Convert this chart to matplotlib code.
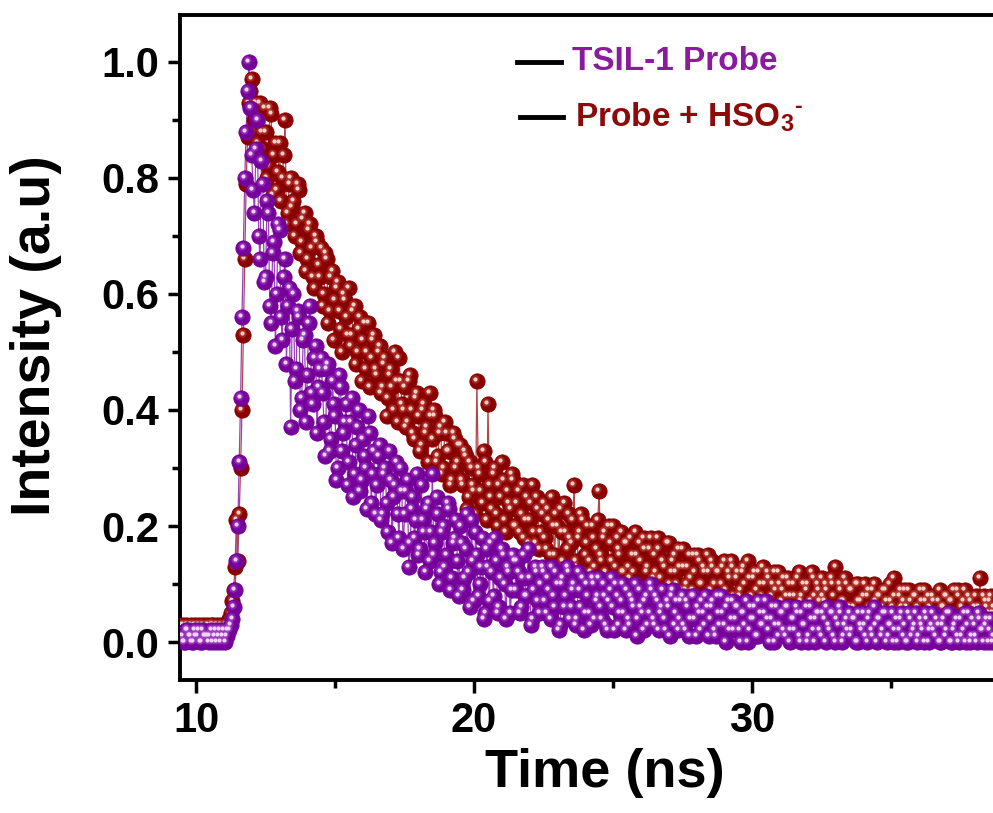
import numpy as np
import matplotlib
matplotlib.use("Agg")
import matplotlib.pyplot as plt
from matplotlib.lines import Line2D
from matplotlib.transforms import offset_copy

plt.rcParams['font.family'] = 'Liberation Sans'
plt.rcParams['font.weight'] = 'bold'
plt.rcParams['mathtext.fontset'] = 'custom'
plt.rcParams['mathtext.rm'] = 'Liberation Sans:bold'
plt.rcParams['mathtext.bf'] = 'Liberation Sans:bold'
plt.rcParams['mathtext.default'] = 'bf'

# time channels (ns): even channels 9.50, 9.60 ... and odd channels 9.55, 9.65 ...
time_even = np.round(np.arange(9.5, 38.75, 0.1), 2)
time_odd = np.round(np.arange(9.55, 38.7, 0.1), 2)

# TSIL-1 probe decay (one row = 1 ns)
probe_even = [
    0.01, 0.00, 0.02, 0.01, 0.00, 0.01, 0.02, 0.00, 0.01, 0.01,
    0.01, 0.00, 0.02, 0.01, 0.00, 0.02, 0.01, 0.02, 0.04, 0.09,
    0.20, 0.42, 0.68, 0.88, 1.00, 0.84, 0.74, 0.90, 0.66, 0.79,
    0.63, 0.74, 0.55, 0.69, 0.60, 0.71, 0.52, 0.66, 0.58, 0.37,
    0.60, 0.47, 0.56, 0.42, 0.53, 0.46, 0.58, 0.41, 0.51, 0.44,
    0.49, 0.38, 0.47, 0.33, 0.45, 0.39, 0.30, 0.44, 0.36, 0.41,
    0.31, 0.42, 0.29, 0.37, 0.26, 0.35, 0.30, 0.39, 0.24, 0.33,
    0.27, 0.34, 0.22, 0.30, 0.19, 0.28, 0.25, 0.31, 0.18, 0.26,
    0.22, 0.28, 0.17, 0.25, 0.21, 0.15, 0.27, 0.19, 0.23, 0.14,
    0.29, 0.17, 0.22, 0.12, 0.20, 0.15, 0.23, 0.11, 0.18, 0.14,
    0.20, 0.09, 0.16, 0.12, 0.21, 0.07, 0.15, 0.10, 0.18, 0.05,
    0.13, 0.17, 0.08, 0.14, 0.06, 0.16, 0.10, 0.13, 0.05, 0.15,
    0.09, 0.12, 0.06, 0.15, 0.08, 0.11, 0.04, 0.13, 0.07, 0.10,
    0.12, 0.05, 0.09, 0.13, 0.06, 0.10, 0.03, 0.11, 0.08, 0.12,
    0.06, 0.10, 0.04, 0.09, 0.11, 0.05, 0.08, 0.03, 0.10, 0.07,
    0.11, 0.04, 0.08, 0.02, 0.09, 0.06, 0.10, 0.03, 0.07, 0.05,
    0.09, 0.03, 0.07, 0.10, 0.04, 0.06, 0.02, 0.08, 0.05, 0.09,
    0.03, 0.07, 0.05, 0.09, 0.02, 0.06, 0.08, 0.03, 0.07, 0.04,
    0.08, 0.02, 0.06, 0.04, 0.08, 0.01, 0.05, 0.07, 0.03, 0.06,
    0.04, 0.07, 0.01, 0.05, 0.08, 0.03, 0.06, 0.02, 0.07, 0.04,
    0.06, 0.00, 0.05, 0.07, 0.02, 0.04, 0.06, 0.01, 0.05, 0.03,
    0.07, 0.02, 0.04, 0.00, 0.06, 0.03, 0.05, 0.01, 0.06, 0.02,
    0.04, 0.06, 0.01, 0.05, 0.03, 0.00, 0.06, 0.02, 0.04, 0.05,
    0.01, 0.04, 0.06, 0.02, 0.05, 0.00, 0.03, 0.05, 0.01, 0.04,
    0.05, 0.02, 0.04, 0.00, 0.03, 0.05, 0.01, 0.04, 0.02, 0.06,
    0.00, 0.04, 0.02, 0.05, 0.01, 0.03, 0.00, 0.04, 0.02, 0.05,
    0.03, 0.00, 0.04, 0.02, 0.05, 0.01, 0.03, 0.00, 0.04, 0.02,
    0.05, 0.01, 0.03, 0.00, 0.04, 0.02, 0.05, 0.00, 0.03, 0.01,
    0.04, 0.02, 0.00, 0.05, 0.01, 0.03, 0.00, 0.04, 0.02, 0.03,
    0.00, 0.04, 0.01,
]
probe_odd = [
    0.00, 0.02, 0.01, 0.00, 0.02, 0.01, 0.00, 0.02, 0.01, 0.00,
    0.02, 0.01, 0.00, 0.02, 0.01, 0.00, 0.02, 0.03, 0.06, 0.14,
    0.31, 0.56, 0.80, 0.95, 0.92, 0.78, 0.85, 0.70, 0.83, 0.62,
    0.76, 0.58, 0.67, 0.51, 0.72, 0.56, 0.63, 0.48, 0.61, 0.54,
    0.45, 0.57, 0.40, 0.52, 0.38, 0.55, 0.43, 0.49, 0.36, 0.47,
    0.43, 0.32, 0.48, 0.35, 0.41, 0.28, 0.46, 0.33, 0.38, 0.27,
    0.38, 0.25, 0.34, 0.40, 0.28, 0.32, 0.23, 0.36, 0.29, 0.22,
    0.32, 0.21, 0.29, 0.24, 0.33, 0.17, 0.27, 0.22, 0.30, 0.16,
    0.26, 0.13, 0.23, 0.18, 0.29, 0.16, 0.21, 0.12, 0.24, 0.19,
    0.15, 0.25, 0.10, 0.19, 0.13, 0.24, 0.09, 0.17, 0.21, 0.08,
    0.17, 0.11, 0.22, 0.06, 0.14, 0.19, 0.08, 0.13, 0.04, 0.16,
    0.07, 0.12, 0.18, 0.05, 0.11, 0.15, 0.04, 0.12, 0.09, 0.14,
    0.14, 0.05, 0.11, 0.08, 0.16, 0.03, 0.09, 0.12, 0.05, 0.13,
    0.07, 0.11, 0.04, 0.08, 0.12, 0.02, 0.10, 0.06, 0.13, 0.04,
    0.09, 0.03, 0.12, 0.06, 0.02, 0.10, 0.05, 0.11, 0.04, 0.08,
    0.06, 0.10, 0.03, 0.07, 0.11, 0.02, 0.08, 0.05, 0.10, 0.02,
    0.04, 0.08, 0.06, 0.01, 0.09, 0.05, 0.07, 0.03, 0.10, 0.04,
    0.08, 0.02, 0.06, 0.04, 0.07, 0.01, 0.09, 0.05, 0.02, 0.07,
    0.03, 0.07, 0.01, 0.08, 0.04, 0.06, 0.02, 0.05, 0.08, 0.01,
    0.06, 0.02, 0.08, 0.03, 0.05, 0.00, 0.07, 0.04, 0.02, 0.06,
    0.02, 0.05, 0.03, 0.00, 0.06, 0.04, 0.01, 0.07, 0.03, 0.05,
    0.04, 0.00, 0.06, 0.03, 0.01, 0.05, 0.02, 0.06, 0.00, 0.04,
    0.02, 0.05, 0.00, 0.03, 0.06, 0.01, 0.04, 0.00, 0.05, 0.02,
    0.05, 0.00, 0.03, 0.05, 0.01, 0.04, 0.06, 0.00, 0.03, 0.02,
    0.01, 0.04, 0.00, 0.05, 0.02, 0.03, 0.00, 0.05, 0.01, 0.03,
    0.04, 0.01, 0.05, 0.00, 0.03, 0.05, 0.02, 0.00, 0.04, 0.01,
    0.00, 0.05, 0.01, 0.03, 0.00, 0.04, 0.02, 0.05, 0.00, 0.03,
    0.02, 0.04, 0.00, 0.03, 0.01, 0.05, 0.00, 0.02, 0.04, 0.00,
    0.01, 0.05, 0.03, 0.00, 0.04, 0.01, 0.05, 0.02, 0.00, 0.04,
    0.02, 0.00,
]

# probe + HSO3- decay
hso3_even = [
    0.03, 0.01, 0.02, 0.03, 0.01, 0.02, 0.03, 0.02, 0.01, 0.03,
    0.02, 0.03, 0.01, 0.02, 0.03, 0.02, 0.03, 0.04, 0.07, 0.13,
    0.14, 0.30, 0.53, 0.79, 0.93, 0.97, 0.90, 0.86, 0.93, 0.85,
    0.88, 0.82, 0.91, 0.84, 0.78, 0.86, 0.80, 0.90, 0.74, 0.80,
    0.76, 0.72, 0.78, 0.69, 0.74, 0.66, 0.72, 0.63, 0.70, 0.65,
    0.68, 0.60, 0.66, 0.57, 0.64, 0.59, 0.62, 0.54, 0.60, 0.56,
    0.61, 0.53, 0.58, 0.50, 0.56, 0.52, 0.47, 0.55, 0.49, 0.53,
    0.46, 0.51, 0.44, 0.49, 0.42, 0.47, 0.40, 0.45, 0.49, 0.41,
    0.44, 0.38, 0.46, 0.36, 0.42, 0.39, 0.34, 0.41, 0.37, 0.43,
    0.35, 0.39, 0.32, 0.37, 0.30, 0.36, 0.33, 0.28, 0.35, 0.31,
    0.34, 0.27, 0.32, 0.25, 0.30, 0.26, 0.45, 0.29, 0.24, 0.31,
    0.41, 0.25, 0.29, 0.22, 0.27, 0.31, 0.21, 0.26, 0.23, 0.28,
    0.20, 0.26, 0.22, 0.18, 0.25, 0.21, 0.27, 0.17, 0.23, 0.19,
    0.24, 0.16, 0.21, 0.25, 0.15, 0.20, 0.23, 0.14, 0.19, 0.22,
    0.17, 0.27, 0.13, 0.19, 0.21, 0.15, 0.20, 0.12, 0.18, 0.16,
    0.26, 0.14, 0.19, 0.11, 0.17, 0.20, 0.13, 0.16, 0.19, 0.12,
    0.17, 0.11, 0.15, 0.19, 0.10, 0.14, 0.18, 0.12, 0.16, 0.10,
    0.15, 0.18, 0.11, 0.14, 0.09, 0.17, 0.12, 0.15, 0.10, 0.13,
    0.16, 0.09, 0.13, 0.11, 0.15, 0.08, 0.14, 0.10, 0.12, 0.15,
    0.09, 0.13, 0.07, 0.12, 0.10, 0.14, 0.08, 0.11, 0.13, 0.07,
    0.12, 0.09, 0.13, 0.06, 0.11, 0.08, 0.12, 0.07, 0.10, 0.13,
    0.07, 0.11, 0.08, 0.12, 0.06, 0.10, 0.09, 0.05, 0.11, 0.08,
    0.10, 0.06, 0.12, 0.08, 0.05, 0.10, 0.07, 0.11, 0.06, 0.09,
    0.11, 0.07, 0.09, 0.05, 0.10, 0.13, 0.06, 0.09, 0.07, 0.10,
    0.06, 0.09, 0.05, 0.10, 0.07, 0.08, 0.04, 0.09, 0.06, 0.10,
    0.05, 0.08, 0.06, 0.09, 0.04, 0.07, 0.11, 0.05, 0.08, 0.06,
    0.09, 0.04, 0.07, 0.05, 0.08, 0.03, 0.07, 0.09, 0.04, 0.06,
    0.08, 0.05, 0.07, 0.03, 0.06, 0.08, 0.04, 0.07, 0.05, 0.09,
    0.04, 0.07, 0.05, 0.08, 0.03, 0.06, 0.04, 0.11, 0.05, 0.07,
    0.05, 0.08, 0.06,
]
hso3_odd = [
    0.02, 0.03, 0.01, 0.02, 0.03, 0.01, 0.02, 0.03, 0.02, 0.01,
    0.03, 0.02, 0.03, 0.01, 0.02, 0.03, 0.02, 0.05, 0.09, 0.21,
    0.22, 0.40, 0.66, 0.87, 0.95, 0.88, 0.93, 0.84, 0.88, 0.92,
    0.80, 0.92, 0.77, 0.86, 0.81, 0.76, 0.84, 0.72, 0.79, 0.75,
    0.70, 0.79, 0.67, 0.73, 0.64, 0.71, 0.68, 0.61, 0.69, 0.63,
    0.58, 0.67, 0.55, 0.63, 0.52, 0.61, 0.57, 0.50, 0.59, 0.53,
    0.51, 0.57, 0.48, 0.54, 0.45, 0.55, 0.50, 0.44, 0.52, 0.47,
    0.50, 0.43, 0.48, 0.39, 0.46, 0.44, 0.50, 0.38, 0.45, 0.40,
    0.37, 0.45, 0.40, 0.35, 0.43, 0.33, 0.40, 0.36, 0.31, 0.39,
    0.40, 0.31, 0.36, 0.29, 0.38, 0.33, 0.27, 0.36, 0.30, 0.34,
    0.28, 0.33, 0.23, 0.31, 0.27, 0.22, 0.30, 0.26, 0.33, 0.21,
    0.27, 0.23, 0.30, 0.20, 0.25, 0.28, 0.19, 0.24, 0.29, 0.20,
    0.24, 0.19, 0.27, 0.21, 0.17, 0.24, 0.19, 0.25, 0.16, 0.22,
    0.18, 0.23, 0.15, 0.20, 0.22, 0.13, 0.19, 0.24, 0.16, 0.18,
    0.21, 0.14, 0.18, 0.22, 0.12, 0.17, 0.14, 0.20, 0.13, 0.21,
    0.15, 0.18, 0.12, 0.20, 0.14, 0.11, 0.18, 0.15, 0.12, 0.17,
    0.13, 0.18, 0.12, 0.15, 0.17, 0.09, 0.16, 0.13, 0.18, 0.11,
    0.12, 0.16, 0.09, 0.13, 0.17, 0.10, 0.14, 0.12, 0.16, 0.09,
    0.13, 0.10, 0.15, 0.09, 0.12, 0.15, 0.10, 0.13, 0.08, 0.12,
    0.14, 0.10, 0.12, 0.08, 0.13, 0.09, 0.12, 0.14, 0.08, 0.11,
    0.08, 0.12, 0.10, 0.14, 0.07, 0.11, 0.09, 0.12, 0.08, 0.10,
    0.12, 0.06, 0.10, 0.09, 0.12, 0.07, 0.11, 0.08, 0.10, 0.06,
    0.08, 0.11, 0.07, 0.10, 0.09, 0.06, 0.12, 0.08, 0.10, 0.07,
    0.08, 0.10, 0.06, 0.11, 0.08, 0.06, 0.10, 0.07, 0.11, 0.06,
    0.09, 0.06, 0.10, 0.07, 0.05, 0.10, 0.08, 0.06, 0.09, 0.07,
    0.08, 0.05, 0.09, 0.07, 0.10, 0.06, 0.08, 0.04, 0.09, 0.07,
    0.06, 0.09, 0.05, 0.08, 0.06, 0.09, 0.05, 0.07, 0.08, 0.04,
    0.07, 0.04, 0.09, 0.06, 0.08, 0.05, 0.07, 0.09, 0.04, 0.08,
    0.06, 0.09, 0.04, 0.07, 0.05, 0.08, 0.06, 0.04, 0.08, 0.06,
    0.07, 0.05,
]

x_ticks = [10, 20, 30]
y_ticks = [0.0, 0.2, 0.4, 0.6, 0.8, 1.0]

# merge even and odd channels in time order
time_ns = np.concatenate([time_even, time_odd])
order = np.argsort(time_ns, kind='stable')
time_ns = time_ns[order]
probe = np.concatenate([probe_even, probe_odd])[order]
probe_hso3 = np.concatenate([hso3_even, hso3_odd])[order]

fig = plt.figure(figsize=(9.93, 8.13), dpi=100)
ax = fig.add_axes([180 / 993, 133 / 813, 1 - 180 / 993, 665 / 813])

shine = offset_copy(ax.transData, fig=fig, x=-1.2, y=1.4, units='points')


def spheres(y, base, mid, light, line):
    ax.plot(time_ns, y, '-', color=line, lw=0.9, zorder=2)
    ax.plot(time_ns, y, 'o', ms=11, color=base, mec=base, mew=0.6, zorder=3)
    ax.plot(time_ns, y, 'o', ms=6, color=mid, mew=0, alpha=0.5,
            transform=shine, zorder=3)
    ax.plot(time_ns, y, 'o', ms=3, color=light, mew=0, transform=shine, zorder=3)


spheres(probe_hso3, '#8a0000', '#c04a40', '#f6d2c8', '#b04848')
spheres(probe, '#76009a', '#a64cc8', '#f2d4f8', '#9a40b8')

ax.set_xlim(9.42, 38.67)
ax.set_ylim(-0.0655, 1.081)
ax.set_xticks(x_ticks)
ax.set_xticks([15, 25, 35], minor=True)
ax.set_yticks(y_ticks)
ax.set_yticks([0.1, 0.3, 0.5, 0.7, 0.9], minor=True)
ax.set_yticklabels([f'{v:.1f}' for v in y_ticks])

ax.tick_params(which='major', length=9, width=2.5, labelsize=30, pad=6)
ax.tick_params(which='minor', length=5.5, width=2.5)
for side in ['left', 'bottom', 'top']:
    ax.spines[side].set_linewidth(2.8)
ax.spines['right'].set_visible(False)

fig.text(605 / 993, 1 - 773 / 813, 'Time (ns)', fontsize=39, fontweight='bold',
         ha='center', va='center')
fig.text(36 / 993, 1 - 336 / 813, 'Intensity (a.u)', fontsize=40, fontweight='bold',
         ha='center', va='center', rotation=90)

# legend: black line segments with coloured labels
fig.add_artist(Line2D([517 / 993, 561 / 993], [1 - 62 / 813] * 2, color='black', lw=3.5))
fig.add_artist(Line2D([520 / 993, 563 / 993], [1 - 117 / 813] * 2, color='black', lw=3.5))
fig.text(572 / 993, 1 - 62 / 813, 'TSIL-1 Probe', fontsize=24, fontweight='bold',
         color='#8a1a9e', va='center')
fig.text(575 / 993, 1 - 117 / 813, r'Probe + HSO$_3$$^{\text{-}}$', fontsize=24,
         fontweight='bold', color='#8c0a0a', va='center')

fig.savefig('out.png', dpi=100)
